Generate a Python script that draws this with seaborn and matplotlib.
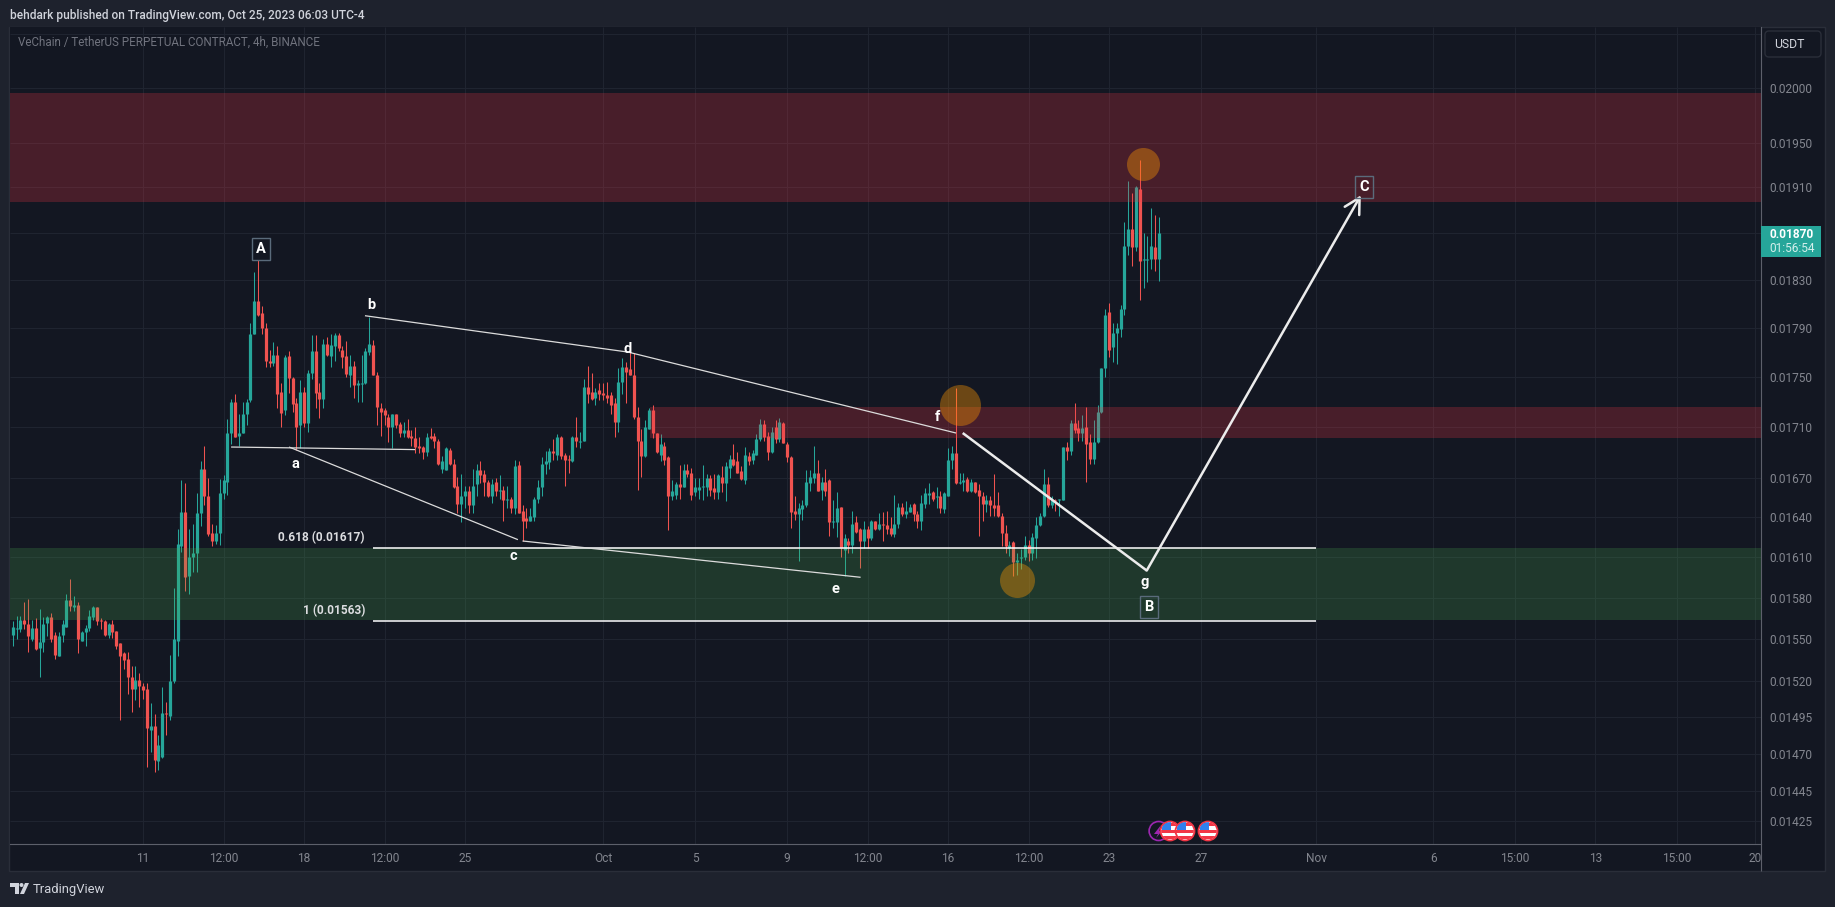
import numpy as np
import pandas as pd
import seaborn as sns
import matplotlib.pyplot as plt
from matplotlib.patches import Rectangle, Circle, Polygon, FancyBboxPatch
from matplotlib.transforms import Affine2D

# VET/USDT perp 4h candles, prices in 0.00001 USDT
opens = [
    1553,1557,1557,1564,1561,1550,1558,1544,1548,1562,1566,1553,1538,1553,1559,1578,1573,1575,1549,1555,
    1558,1566,1573,1564,1563,1553,1561,1556,1547,1540,1536,1523,1515,1521,1517,1515,1486,1489,1465,1468,
    1498,1496,1520,1549,1618,1644,1596,1610,1613,1643,1677,1656,1628,1622,1628,1658,1667,1705,1730,1703,
    1705,1720,1731,1785,1812,1802,1790,1763,1761,1768,1738,1723,1767,1749,1729,1711,1738,1713,1753,1771,
    1738,1732,1777,1767,1775,1784,1772,1767,1751,1759,1743,1744,1745,1770,1776,1751,1725,1723,1718,1710,
    1720,1712,1705,1707,1703,1701,1695,1694,1690,1703,1703,1699,1677,1676,1692,1681,1664,
    1650,1656,1660,1649,1665,1676,1673,1667,1656,1667,1660,1661,1653,1654,1647,1680,1645,1639,1637,1640,
    1654,1663,1681,1682,1691,1688,1702,1688,1685,1683,1702,1698,1699,1742,1738,1733,1739,1737,1735,1735,
    1729,1714,1746,1758,1756,1751,1718,1699,1687,1708,1723,1705,1688,1695,1686,1656,1657,1665,1663,1676,
    1674,1659,1661,1663,1663,1670,1662,1659,1671,1666,1678,1685,1683,1675,1668,1687,1684,1688,1700,1712,
    1703,1690,1710,1700,1713,1696,1686,1645,1642,1646,1649,1666,1670,1674,1661,1667,1668,1636,1636,1648,
    1615,1622,
    1619,1636,1631,1622,1631,1624,1637,1631,1635,1634,1632,1627,1635,1648,1642,1644,1650,1642,1637,1650,
    1657,1659,1655,1656,1646,1656,1684,1689,1666,1667,1669,1660,1667,1661,1656,1650,1653,1649,1649,1641,
    1628,1617,1621,1606,1609,1610,1619,1613,1624,1634,1641,1665,1649,1653,1653,1653,1694,1691,1713,1709,
    1705,1710,1698,1685,1698,1722,1757,1803,1774,1786,1789,1806,1859,1874,1858,1909,1847,1847,1848,1858,
    1848,
]
highs = [
    1563,1567,1567,1577,1579,1564,1565,1572,1566,1567,1569,1555,1555,1564,1583,1594,1581,1577,1556,1560,
    1571,1574,1573,1565,1564,1562,1564,1556,1547,1541,1541,1531,1531,1526,1519,1519,1505,1497,1483,1516,
    1506,1539,1587,1631,1668,1666,1631,1635,1658,1683,1695,1670,1635,1634,1669,1672,1716,1732,1736,1720,
    1730,1732,1794,1837,1847,1808,1794,1772,1778,1775,1745,1768,1771,1750,1733,1747,1742,1755,1784,1784,
    1745,1781,1782,1785,1786,1786,1775,1779,1768,1763,1747,1768,1773,1799,1780,1754,1729,1725,1720,1720,
    1720,1714,1714,1716,1707,1710,1702,1695,1705,1709,1705,1700,1687,1694,1693,1685,1671,
    1673,1664,1664,1677,1681,1683,1676,1668,1669,1670,1672,1664,1664,1655,1684,1683,1649,1647,1647,1655,
    1668,1686,1691,1693,1700,1704,1703,1689,1688,1703,1718,1706,1748,1759,1753,1741,1745,1745,1746,1738,
    1733,1757,1765,1762,1771,1769,1726,1708,1715,1725,1727,1705,1704,1698,1687,1668,1667,1680,1681,1681,
    1678,1670,1670,1680,1673,1672,1673,1673,1679,1682,1688,1696,1690,1679,1694,1690,1692,1704,1716,1715,
    1706,1710,1715,1717,1714,1698,1687,1656,1651,1653,1676,1676,1695,1684,1671,1677,1669,1653,1659,1648,
    1627,1624,
    1645,1641,1632,1637,1633,1638,1637,1643,1644,1645,1640,1657,1651,1651,1652,1650,1651,1645,1657,1662,
    1666,1660,1663,1660,1659,1693,1695,1741,1674,1674,1671,1669,1667,1665,1659,1657,1656,1673,1659,1643,
    1634,1622,1622,1613,1616,1626,1623,1628,1640,1643,1677,1671,1656,1654,1654,1694,1698,1715,1729,1715,
    1719,1726,1704,1715,1727,1757,1806,1811,1794,1794,1809,1880,1916,1905,1911,1934,1870,1868,1892,1886,
    1884,
]
lows = [
    1545,1550,1555,1557,1541,1549,1542,1523,1541,1552,1548,1536,1538,1548,1559,1570,1570,1540,1549,1545,
    1556,1564,1560,1557,1552,1551,1551,1543,1493,1529,1511,1499,1507,1502,1508,1461,1471,1458,1459,1467,
    1483,1493,1519,1538,1614,1585,1583,1599,1599,1633,1649,1626,1618,1620,1619,1654,1657,1696,1702,1695,
    1705,1711,1730,1785,1800,1785,1758,1758,1759,1725,1710,1719,1737,1722,1692,1693,1710,1706,1748,1725,
    1717,1725,1767,1758,1763,1771,1757,1750,1742,1733,1730,1730,1744,1768,1751,1711,1703,1711,1698,1693,
    1709,1702,1702,1701,1695,1689,1689,1685,1687,1700,1693,1680,1674,1676,1680,1662,1643,
    1636,1647,1643,1643,1656,1666,1656,1655,1651,1656,1654,1637,1647,1643,1642,1643,1622,1632,1637,1637,
    1651,1656,1673,1677,1684,1684,1685,1664,1674,1682,1694,1693,1699,1729,1731,1727,1731,1731,1729,1720,
    1702,1706,1736,1729,1751,1716,1661,1671,1686,1708,1701,1689,1683,1680,1630,1653,1654,1654,1663,1671,
    1653,1656,1654,1653,1656,1656,1654,1654,1659,1652,1670,1679,1674,1668,1665,1680,1681,1688,1699,1699,
    1684,1689,1697,1698,1697,1682,1632,1638,1607,1638,1648,1660,1666,1660,1653,1656,1626,1632,1625,1610,
    1596,1613,
    1613,1628,1602,1617,1617,1623,1630,1630,1622,1627,1626,1625,1632,1641,1639,1644,1637,1632,1630,1647,
    1650,1652,1647,1643,1643,1656,1677,1665,1665,1660,1659,1659,1658,1626,1637,1644,1641,1641,1640,1618,
    1613,1611,1596,1597,1601,1608,1607,1608,1609,1633,1640,1648,1647,1645,1641,1653,1684,1688,1705,1699,
    1699,1667,1681,1681,1697,1721,1750,1766,1762,1760,1782,1801,1851,1842,1855,1813,1823,1828,1839,1838,
    1829,
]
closes = [
    1559,1558,1564,1561,1552,1558,1543,1548,1561,1566,1550,1539,1552,1561,1578,1574,1575,1550,1555,1558,
    1567,1573,1563,1563,1553,1561,1555,1545,1538,1535,1523,1515,1521,1517,1514,1488,1489,1466,1476,1498,
    1497,1520,1550,1620,1644,1595,1610,1613,1643,1677,1656,1627,1622,1628,1658,1668,1705,1730,1702,1705,
    1720,1730,1785,1812,1801,1790,1763,1761,1768,1736,1721,1766,1749,1728,1710,1738,1713,1753,1771,1737,
    1732,1777,1768,1776,1784,1773,1766,1752,1759,1743,1745,1745,1771,1777,1751,1726,1722,1719,1710,1720,
    1711,1705,1707,1702,1701,1694,1693,1690,1702,1701,1699,1681,1683,1693,1681,1663,1650,
    1656,1660,1649,1664,1676,1672,1667,1656,1665,1660,1661,1653,1654,1647,1679,1643,1637,1637,1641,1654,
    1663,1681,1683,1691,1689,1702,1687,1684,1684,1702,1699,1699,1742,1736,1732,1738,1736,1735,1733,1727,
    1714,1746,1758,1754,1751,1718,1699,1687,1710,1723,1705,1690,1696,1684,1656,1660,1665,1663,1676,1673,
    1657,1663,1663,1664,1670,1661,1659,1672,1666,1679,1685,1680,1674,1669,1688,1683,1689,1700,1712,1702,
    1690,1706,1700,1714,1697,1686,1644,1642,1647,1649,1667,1671,1674,1660,1667,1660,1636,1637,1647,1617,
    1624,1619,
    1635,1629,1622,1631,1624,1637,1631,1635,1634,1631,1627,1635,1648,1642,1645,1648,1642,1637,1651,1658,
    1658,1654,1656,1647,1658,1684,1689,1666,1667,1668,1660,1667,1659,1656,1650,1653,1649,1647,1641,1628,
    1618,1619,1606,1608,1610,1619,1613,1625,1634,1641,1665,1649,1653,1652,1654,1694,1691,1713,1707,1705,
    1709,1696,1685,1698,1722,1757,1801,1772,1786,1790,1806,1859,1874,1858,1910,1846,1848,1848,1859,1848,
    1870,
]

# x is days since Sep 11, last candle is Oct 25 04:00
last_day = 44.1667
bars_per_day = 6

price_ticks = [1425, 1445, 1470, 1495, 1520, 1550, 1580, 1610, 1640, 1670, 1710, 1750, 1790, 1830, 1870, 1910, 1950, 2000, 2050]
date_ticks = [0, 3.5, 7, 10.5, 14, 20, 24, 28, 31.5, 35, 38.5, 42, 46, 51, 56.1, 59.65, 63.15, 66.7, 70.1]
date_labels = ['11', '12:00', '18', '12:00', '25', 'Oct', '5', '9', '12:00', '16', '12:00', '23', '27', 'Nov', '6', '15:00', '13', '15:00', '20']

zone_start = [-6, 22.04, -6]
zone_low = [1897, 1701, 1564]
zone_high = [1995, 1726, 1617]
zone_color = ['#f23645', '#f23645', '#4caf50']
zone_alpha = [0.24, 0.24, 0.22]

fib_price = [1617, 1563]
fib_start, fib_end = 10, 51

# wave drawings: a flat, a-c, b-d-f, c-e
flat_days, flat_prices = [3.83, 11.83], [1694, 1692]
ac_days, ac_prices = [6.35, 16.3], [1694, 1623]
bdf_days, bdf_prices = [9.65, 21.09, 35.35], [1800, 1770, 1705]
ce_days, ce_prices = [16.5, 31.2], [1622, 1595]
path_days, path_prices = [35.64, 43.64, 52.95], [1705, 1600, 1903]

circle_days = [43.49, 35.5, 38.0]
circle_prices = [1931, 1727, 1593]
circle_sizes = [565, 871, 635]

GREEN = '#26a69a'
RED = '#ef5350'
BG = '#131722'
OUTER = '#1e222d'
GRID = '#1f2430'
TICK = '#83868f'

sns.set_theme(style='dark', rc={'axes.facecolor': BG, 'figure.facecolor': OUTER, 'lines.solid_capstyle': 'butt'})
plt.rcParams['font.family'] = ['Roboto', 'DejaVu Sans']

fig = plt.figure(figsize=(18.35, 9.07), dpi=100)
L, R, T, B = 10, 1761, 27, 844
ax = fig.add_axes([L / 1835, 1 - B / 907, (R - L) / 1835, (B - T) / 907])
pix = Affine2D().scale(1, -1).translate(0, 907)

fig.add_artist(Rectangle((9, 27), 1816, 844, transform=pix, fc=BG, ec='#2a2e39', lw=1, zorder=-1))

# candles in long form, one wick and one body line per bar
n = len(closes)
days = last_day - (n - 1 - np.arange(n)) / bars_per_day
o, h, l, c = [np.array(v) * 1e-5 for v in (opens, highs, lows, closes)]
side = np.where(c >= o, 'up', 'down')
pal = {'up': GREEN, 'down': RED}
wicks = pd.DataFrame({
    'bar': np.tile(np.arange(n), 2), 'day': np.tile(days, 2),
    'price': np.r_[l, h], 'side': np.tile(side, 2)})
bodies = pd.DataFrame({
    'bar': np.tile(np.arange(n), 2), 'day': np.tile(days, 2),
    'price': np.r_[o, c], 'side': np.tile(side, 2)})

ax.set_yscale('log')
sns.lineplot(data=wicks, x='day', y='price', units='bar', estimator=None, hue='side', palette=pal,
             legend=False, lw=0.75, sort=False, zorder=2, ax=ax)
sns.lineplot(data=bodies, x='day', y='price', units='bar', estimator=None, hue='side', palette=pal,
             legend=False, lw=2.3, sort=False, zorder=2, ax=ax)

xlim = ((L - 143) / 23, (R - 143) / 23)
for s, lo, hi, col, a in zip(zone_start, zone_low, zone_high, zone_color, zone_alpha):
    ax.fill_between([max(s, xlim[0]), xlim[1]], lo * 1e-5, hi * 1e-5, color=col, alpha=a, lw=0, zorder=3)

for p in fib_price:
    sns.lineplot(x=[fib_start, fib_end], y=[p * 1e-5] * 2, color='white', lw=1.1, zorder=4, ax=ax)

for xs, ys in [(flat_days, flat_prices), (ac_days, ac_prices), (bdf_days, bdf_prices), (ce_days, ce_prices)]:
    sns.lineplot(x=xs, y=np.array(ys) * 1e-5, color='#dcdcdc', lw=0.9, sort=False, estimator=None, zorder=4, ax=ax)

sns.lineplot(x=path_days[:2], y=np.array(path_prices[:2]) * 1e-5, color='#ececec', lw=1.8, sort=False,
             estimator=None, zorder=4, ax=ax)
ax.annotate('', xy=(path_days[2], path_prices[2] * 1e-5), xytext=(path_days[1], path_prices[1] * 1e-5),
            arrowprops=dict(arrowstyle='->,head_length=0.55,head_width=0.3', color='#ececec', lw=1.8,
                            shrinkA=0, shrinkB=0, mutation_scale=20), zorder=4)

for d, p, s in zip(circle_days, circle_prices, circle_sizes):
    sns.scatterplot(x=[d], y=[p * 1e-5], s=s, color='#ff9800', alpha=0.38, linewidth=0, zorder=5, ax=ax)

ax.set_xlim(xlim)
ax.set_ylim(1410e-5, 2057e-5)
ax.set_xlabel('')
ax.set_ylabel('')
ax.set_xticks(date_ticks)
ax.set_xticklabels(date_labels)
ax.yaxis.tick_right()
ax.set_yticks([p * 1e-5 for p in price_ticks])
ax.set_yticklabels([f'{p * 1e-5:.5f}' if p != 2050 else '' for p in price_ticks])
ax.minorticks_off()
ax.tick_params(axis='both', length=0, colors=TICK, labelsize=8.6)
ax.tick_params(axis='y', pad=5.8)
ax.tick_params(axis='x', pad=6)
ax.grid(True, color=GRID, lw=0.75, zorder=1)
ax.set_axisbelow(True)
for sp in ['top', 'left']:
    ax.spines[sp].set_visible(False)
ax.spines['right'].set_color('#5d606b')
ax.spines['bottom'].set_color('#5d606b')
ax.spines['right'].set_linewidth(0.8)
ax.spines['bottom'].set_linewidth(0.8)

# cut the last date label at the price scale, as in the screenshot
fig.add_artist(Rectangle((R, 845), 63, 25, transform=pix, fc=BG, ec='none', zorder=2))
fig.add_artist(plt.Line2D([R, R], [844, 871], transform=pix, color='#5d606b', lw=0.8, zorder=3))


def label(x, y, s, **kw):
    kw.setdefault('color', 'white')
    kw.setdefault('fontsize', 9.5)
    kw.setdefault('ha', 'center')
    kw.setdefault('va', 'center')
    fig.text(x, y, s, transform=pix, zorder=6, **kw)


label(10, 15, 'behdark published on TradingView.com, Oct 25, 2023 06:03 UTC-4', color='#d1d4dc', fontsize=8.6,
      ha='left', fontweight='medium')
label(18, 42, 'VeChain / TetherUS PERPETUAL CONTRACT, 4h, BINANCE', color='#70737e', fontsize=8.4, ha='left')

label(365, 537.5, '0.618 (0.01617)', ha='right', fontsize=8.6, fontweight='bold', color='#dcdde0')
label(365, 610.6, '1 (0.01563)', ha='right', fontsize=8.6, fontweight='bold', color='#dcdde0')

for x, y, s in [(371, 305, 'b'), (295, 464, 'a'), (513, 556, 'c'), (628, 349, 'd'),
                (835, 589, 'e'), (937, 417, 'f'), (1145, 582, 'g')]:
    label(x, y, s, fontweight='bold', fontsize=10.5)

box = dict(boxstyle='square,pad=0.3', fc='none', ec='#5a6b7b', lw=1)
for x, y, s in [(261, 249, 'A'), (1149, 607, 'B'), (1364, 187, 'C')]:
    label(x, y, s, fontweight='bold', fontsize=10.5, bbox=box)

# price scale widgets
fig.add_artist(FancyBboxPatch((1765, 31), 56, 26, boxstyle='round,pad=0,rounding_size=4', transform=pix,
                              fc=BG, ec='#2a2e39', lw=1, zorder=5))
label(1774, 44.5, 'USDT', color='#d1d4dc', fontsize=8.8, ha='left')
fig.add_artist(Rectangle((R, 226), 60, 31, transform=pix, fc=GREEN, ec='none', zorder=5))
label(1769, 235, '0.01870', fontweight='bold', fontsize=8.6, ha='left')
label(1769, 248.5, '01:56:54', color='#d4efec', fontsize=8.6, ha='left')

# event flags along the bottom
fig.add_artist(Circle((1158.6, 831), 9.5, transform=pix, fc='none', ec='#9c27b0', lw=1.2, zorder=5))
fig.add_artist(Polygon([(1161, 825), (1154, 834), (1158, 834), (1156, 838), (1162, 831), (1159, 831)],
                       transform=pix, fc='#9c27b0', ec='none', zorder=5))
for fx in [1170, 1185, 1208]:
    disc = Circle((fx, 831), 9.5, transform=pix, fc='white', ec='#f23645', lw=1.3, zorder=6)
    fig.add_artist(disc)
    parts = [Rectangle((fx - 9, 836), 18, 3, fc='#f23645'), Rectangle((fx - 9, 830), 18, 3, fc='#f23645'),
             Rectangle((fx - 9, 823), 18, 3, fc='#f23645'), Rectangle((fx - 8, 822), 9, 8, fc='#2f80ed')]
    for p in parts:
        p.set_transform(pix)
        p.set_edgecolor('none')
        p.set_zorder(6.1)
        fig.add_artist(p)
        p.set_clip_path(Circle((fx, 831), 8.8, transform=pix))

# logo and footer
logo = '#d1d4dc'
fig.add_artist(Polygon([(10, 883), (19, 883), (19, 894), (15, 894), (15, 887), (10, 887)], transform=pix, fc=logo, ec='none'))
fig.add_artist(Circle((21.5, 885), 2, transform=pix, fc=logo, ec='none'))
fig.add_artist(Polygon([(25, 883), (29, 883), (24, 894), (20, 894)], transform=pix, fc=logo, ec='none'))
label(33, 889, 'TradingView', color=logo, fontsize=9.4, ha='left')

fig.savefig('out.png', dpi=100, facecolor=fig.get_facecolor())
